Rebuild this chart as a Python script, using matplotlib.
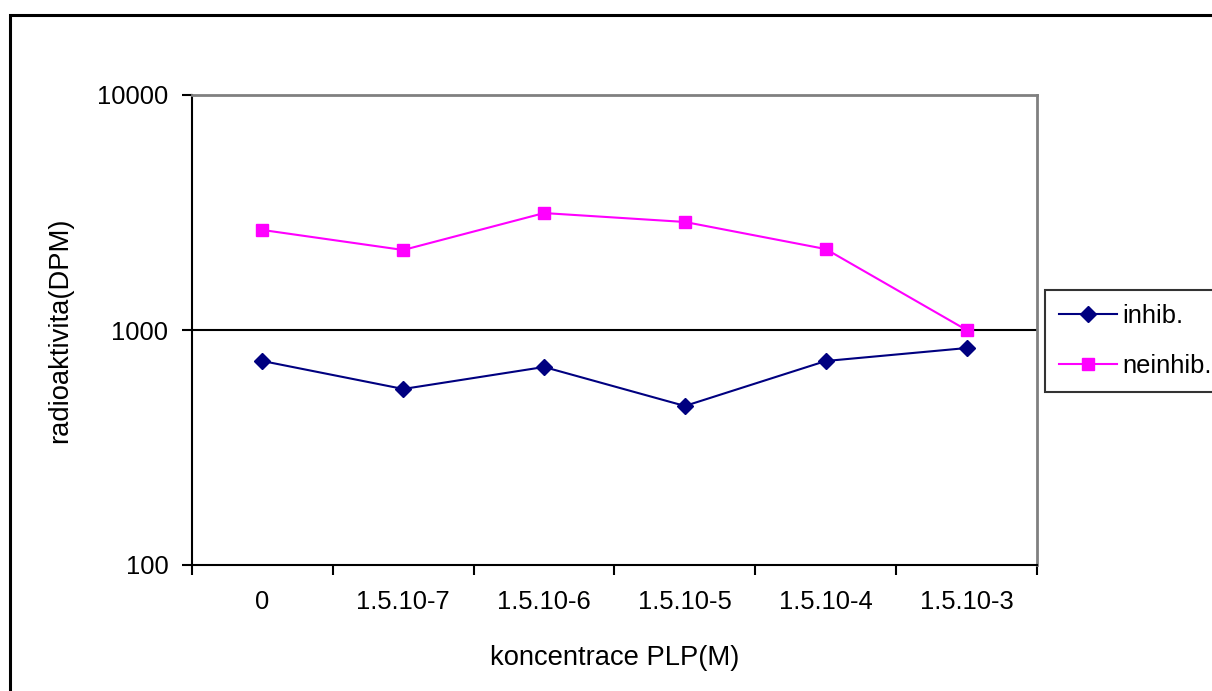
import numpy as np
import matplotlib.pyplot as plt
from matplotlib.patches import Rectangle

plt.rcParams['font.family'] = ['Liberation Sans', 'DejaVu Sans']

categories = ["0", "1.5.10-7", "1.5.10-6", "1.5.10-5", "1.5.10-4", "1.5.10-3"]
inhib = [738, 561, 696, 475, 738, 838]
neinhib = [2665, 2190, 3145, 2882, 2210, 1000]

W, H = 1212, 691
fig = plt.figure(figsize=(W / 100, H / 100), dpi=100)

# outer chart border (runs off the right/bottom edges like the source)
fig.patches.append(Rectangle((10 / W, -0.1), 1.2, 1 - 15 / H + 0.1,
                             transform=fig.transFigure, fill=False,
                             edgecolor="black", linewidth=2.2))

ax = fig.add_axes([192 / W, 1 - 565 / H, (1037 - 192) / W, (565 - 95) / H])
x = np.arange(len(categories))

ax.plot(x, inhib, color="#000080", marker="D", markersize=8.5, linewidth=1.5,
        label="inhib.", zorder=3)
ax.plot(x, neinhib, color="#FF00FF", marker="s", markersize=9, linewidth=1.5,
        label="neinhib.", zorder=3)

ax.set_yscale("log")
ax.set_ylim(100, 10000)
ax.set_xlim(-0.5, len(categories) - 0.5)

ax.set_yticks([100, 1000, 10000])
ax.set_yticklabels(["100", "1000", "10000"])
ax.yaxis.set_minor_locator(plt.NullLocator())
ax.axhline(1000, color="black", linewidth=1.5, zorder=1)

ax.set_xticks(np.arange(len(categories) + 1) - 0.5)
ax.set_xticklabels([])
ax.set_xticks(x, minor=True)
ax.set_xticklabels(categories, minor=True)
ax.tick_params(axis="x", which="minor", length=0, pad=18, labelsize=18.4)
ax.tick_params(axis="x", which="major", length=7, width=1.5, direction="out")
ax.tick_params(axis="y", length=7, width=1.5, direction="out", pad=10, labelsize=18.4)

for s in ["left", "bottom"]:
    ax.spines[s].set_color("black")
    ax.spines[s].set_linewidth(1.5)
for s in ["top", "right"]:
    ax.spines[s].set_color("#808080")
    ax.spines[s].set_linewidth(2)

ax.set_xlabel("koncentrace PLP(M)", fontsize=19.7, labelpad=22)
ax.set_ylabel("radioaktivita(DPM)", fontsize=19.7, labelpad=17.5)

leg = fig.legend(loc="upper left", bbox_to_anchor=(1045 / W, 1 - 290 / H),
                 fontsize=18.4, frameon=True, fancybox=False, borderpad=0.55,
                 handlelength=2.27, handletextpad=0.22, labelspacing=1.0,
                 borderaxespad=0)
leg.get_frame().set_edgecolor("black")
leg.get_frame().set_linewidth(1.5)

fig.savefig("out.png", dpi=100)
